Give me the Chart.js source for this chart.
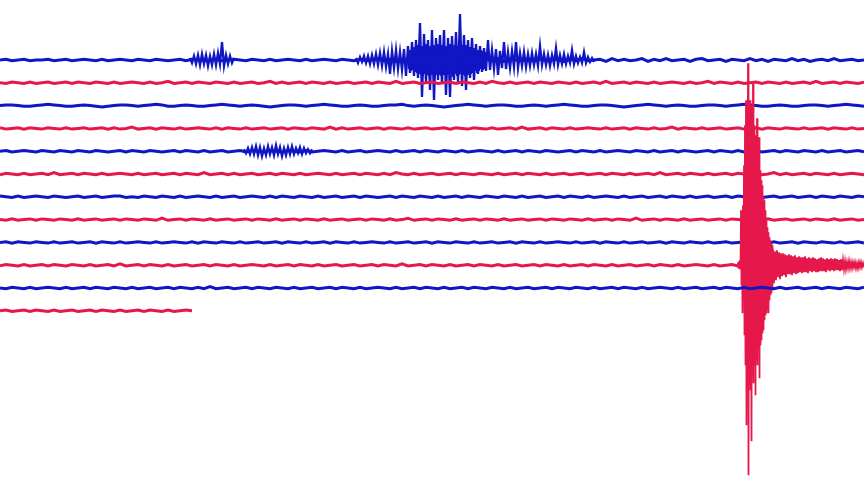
<!DOCTYPE html>
<html>
<head>
<meta charset="utf-8">
<script src="https://cdn.jsdelivr.net/npm/chart.js@4.4.1/dist/chart.umd.min.js"></script>
<style>
  html, body { margin: 0; padding: 0; background: #fff; overflow: hidden; }
  #wrap { width: 864px; height: 486px; }
</style>
</head>
<body>
<div id="wrap"><canvas id="seismo" width="864" height="486"></canvas></div>
<script>
// Seismogram: 12 stacked traces, background noise sampled every 6 units,
// plus the denser event windows. Amplitudes are positive upwards.

const trace0 = [0,1,-1,0,1,-1,0,0,1,-1,0,1, -1,0,1,0,-1,1,-1,0,1,0,-1,1, 0,-1,1,0,-1,0,1,-1,1,0,-1,0, 1,-1,0,1,0,-1,1,0,-1,1,-1,0, 1,0,-1,1,-1,0,1,0,-1,1,0,-1, 1,-1,0,2,-1,1,-2,1,0,-1,2,-1, 1,-2,2,-1,1,0,-2,2,-1,1,-1,2, -2,1,0,-1,2,-2,1,-1,2,0,-2,1, -1,2,-1,0,1,-2,2,-1,1,-1,0,2, -2,1,-1,2,-1,0,1,-2,1,2,-1,0, 1,-2,1,0,-1,2,-1,1,-2,1,0,-1, 2,-1,1,-2,0,1,-1,2,-1,0,1,-1, 0];
const trace1 = [0,-1,1,0,-1,1,-1,0,1,-1,0,1, -1,1,0,-1,1,0,-1,1,-1,0,1,0, -1,1,-1,0,2,-1,0,1,-1,1,0,-1, 1,0,-1,1,-1,0,1,-1,0,2,-1,1, -1,0,1,-1,1,0,-1,1,-1,0,1,-1, 0,1,-1,1,0,-1,2,-1,0,1,-1,0, 1,-1,0,1,-1,1,0,-1,1,-1,2,0, -1,1,-1,0,1,-1,1,0,-1,1,0,-1, 1,-1,0,1,-1,2,-1,0,1,-1,1,0, -1,1,-1,0,1,0,-1,1,-1,0,2,-1, 1,0,-1,1,-1,0,1,-1,1,0,-1,1, -1,0,1,-1,2,-1,0,1,-1,1,0,-1, 1];
const trace2 = [0,1,1,0,-1,-1,0,1,2,1,0,-1, -1,0,1,0,-1,-2,-1,0,1,1,0,-1, 0,1,2,1,-1,-1,0,1,0,-1,-1,0, 1,2,1,0,-1,0,1,0,-1,-2,-1,0, 1,1,0,-1,0,1,2,1,0,-1,-1,0, 1,0,-1,-1,0,1,1,2,0,-1,0,1, 0,-1,-2,-1,0,1,2,1,0,-1,0,1, 1,0,-1,-1,0,1,0,-1,0,1,2,1, 0,-1,-1,0,1,1,0,-1,-2,-1,0,1, 2,1,0,-1,0,1,0,-1,-1,0,1,1, 0,-1,0,1,2,1,0,-1,-1,0,1,0, -1,-1,0,1,1,0,-1,0,1,2,1,0, -1];
const trace3 = [1,-1,0,1,-1,1,0,-1,1,0,-1,1, -1,0,1,-1,0,1,-1,1,-1,0,2,-1, 0,1,-1,1,0,-1,1,-1,0,1,0,-1, 1,-1,1,0,-1,1,-1,0,1,-1,0,1, -1,1,0,-1,1,0,-1,2,-1,1,-1,0, 1,-1,0,1,-1,1,0,-1,1,-1,0,1, -1,0,1,-1,1,0,-1,1,0,-1,1,-1, 0,1,-1,2,-1,0,1,-1,1,0,-1,1, -1,0,1,0,-1,1,-1,0,1,-1,1,0, -1,1,-1,0,2,-1,1,0,-1,1,-1,0, 1,-1,0,1,-1,0,1,-1,1,0,-1,1, 0,-1,1,-1,0,1,-1,1,0,-1,1,-1, 0];
const trace4 = [0,1,-1,0,1,0,-1,1,0,-1,1,0, -1,1,0,-1,1,0,-1,0,1,-1,1,0, -1,1,0,-1,0,1,-1,1,0,-1,1,-1, 0,1,-1,0,1,-1,1,0,-1,1,0,-1, 1,0,-1,1,-1,0,1,0,-1,1,-1,0, 1,-1,0,1,0,-1,1,-1,0,1,-1,1, 0,-1,1,0,-1,1,-1,0,1,0,-1,1, -1,0,1,-1,1,0,-1,1,0,-1,0,1, -1,1,0,-1,1,-1,0,1,0,-1,1,0, -1,1,-1,0,1,-1,1,0,-1,0,1,-1, 1,0,-1,1,-1,0,1,-1,0,1,-1,1, 0,-1,1,0,-1,1,-1,0,1,-1,0,1, -1];
const trace5 = [-1,1,0,-1,1,-1,0,1,-1,2,-1,0, 1,-1,1,0,-1,1,-1,0,1,0,-1,1, -1,0,1,-1,0,1,-1,1,0,-1,2,-1, 0,1,-1,1,-1,0,1,-1,0,1,-1,1, 0,-1,1,-1,0,1,0,-1,1,-1,0,1, -1,1,0,-1,1,-1,2,0,-1,1,-1,0, 1,-1,0,1,-1,1,0,-1,1,0,-1,1, -1,0,1,-1,1,0,-1,1,-1,0,1,-1, 0,1,-1,0,1,-1,1,0,-1,1,-1,0, 1,-1,2,-1,0,1,-1,1,0,-1,1,-1, 0,1,-1,1,0,-1,1,-1,0,2,-1,1, -1,0,1,-1,1,0,-1,1,-1,0,1,0, -1];
const trace6 = [1,0,-1,1,-1,0,1,0,-1,1,0,-1, 0,1,-1,0,1,-1,0,1,1,-1,0,-1, 1,0,-1,1,0,-1,1,-1,0,1,0,-1, 1,-1,0,1,-1,0,1,0,-1,1,-1,1, 0,-1,1,0,-1,1,-1,0,1,-1,0,1, -1,1,0,-1,0,1,-1,1,0,-1,1,0, -1,1,-1,0,1,-1,1,0,-1,1,0,-1, 1,0,-1,1,-1,0,1,-1,0,1,-1,1, 0,-1,1,-1,0,1,0,-1,1,-1,0,1, -1,0,1,-1,1,0,-1,1,-1,0,1,-1, 0,1,-1,1,0,-1,1,-1,0,1,-1,0, 1,-1,0,1,-1,1,0,-1,1,0,-1,1, 0];
const trace7 = [0,-1,1,-1,0,1,-1,1,0,-1,1,0, -1,1,-1,0,1,-1,0,1,-1,1,0,-1, 1,0,-1,2,-1,0,1,-1,1,0,-1,1, -1,0,1,-1,0,1,-1,1,0,-1,1,-1, 0,1,-1,1,0,-1,1,-1,0,1,-1,0, 1,-1,1,0,-1,1,-1,0,2,-1,0,1, -1,1,0,-1,1,-1,0,1,-1,1,0,-1, 1,-1,0,1,-1,0,1,-1,1,0,-1,1, 0,-1,1,-1,0,1,-1,1,0,-1,2,-1, 0,1,-1,1,0,-1,1,-1,0,1,-1,0, 1,-1,1,0,-1,1,0,-1,1,-1,0,1, -1,0,1,-1,1,0,-1,1,-1,0,1,-1, 0];
const trace8 = [0,1,-1,1,0,-1,1,0,-1,1,-1,0, 1,-1,0,1,-1,1,0,-1,1,-1,0,1, 0,-1,1,-1,0,1,0,-1,1,-1,1,0, -1,1,0,-1,1,-1,0,1,-1,0,1,-1, 1,0,-1,1,-1,0,1,-1,1,0,-1,1, -1,0,1,0,-1,1,-1,0,1,-1,0,1, -1,1,0,-1,1,0,-1,1,-1,0,1,-1, 0,1,-1,1,0,-1,1,-1,0,1,0,-1, 1,-1,0,1,-1,1,0,-1,1,-1,0,1, -1,0,1,-1,1,0,-1,1,0,-1,1,-1, 0,1,-1,0,1,-1,1,0,-1,1,-1,0, 1,-1,1,0,-1,1,0,-1,1,-1,0,1, -1];
const trace9 = [-1,1,0,-1,1,-1,0,1,-1,1,0,-1, 1,0,-1,1,-1,0,1,-1,2,-1,0,1, -1,1,0,-1,1,-1,0,1,-1,0,1,-1, 1,0,-1,1,-1,0,1,0,-1,1,-1,0, 1,-1,1,0,-1,1,-1,0,1,-1,0,1, -1,0,1,-1,1,0,-1,2,-1,0,1,-1, 1,0,-1,1,-1,0,1,-1,1,0,-1,1, -1,0,1,-1,0,1,-1,1,0,-1,1,-1, 0,1,-1,1,0,-1,1,-1,0,1,-1,0, 1,-1,1,0,-1,1,-1,0,1,0,-1,1, -1,0,1,-1,1,0,-1,1,-1,0,1,-1, 0,1,-1,1,0,-1,1,0,-1,1,-1,0, 1];
const trace10 = [0,-1,1,0,-1,1,-1,0,1,0,-1,1, -1,0,1,-1,1,0,-1,1,0,-1,1,-1, 0,1,-1,0,1,-1,1,0,-1,1,-1,2, -1,0,1,-1,0,1,-1,1,0,-1,1,0, -1,1,-1,0,1,-1,0,1,-1,1,0,-1, 1,-1,0,1,0,-1,1,-1,0,1,-1,1, 0,-1,1,-1,0,1,-1,1,0,-1,1,0, -1,1,-1,0,1,-1,0,1,-1,1,0,-1, 1,0,-1,1,-1,0,1,-1,1,0,-1,1, -1,0,1,0,-1,1,-1,0,1,-1,0,1, -1,1,0,-1,1,-1,0,1,0,-1,1,-1, 0,1,-1,0,1,-1,1,0,-1,1,0,-1, 1];
const trace11 = [0,1,-1,0,1,-1,1,0,-1,1,-1,0, 1,-1,0,1,-1,1,0,-1,1,-1,0,1, -1,1,0,-1,1,-1,0,1,0];

// event windows: [trace index, first x, x step, amplitudes]
const burstSmall0 = [2,-3,4,-4,5,-5,6,-4,5,-6,4,-5,6,-5,7,-4,18,-6,5,-4,4,-3,2];
const burstMain0 = [2,-3,3,-2,4,-3,4,-4,5,-4,6,-5,7,-6,8,-7,6,-14,9,-8,10,-9,8,-10,11,-16,14,-13,18,-16,
  20,-18,37,-37,26,-22,20,-30,30,-40,22,-20,25,-24,30,-35,22,-37,24,-20,28,-22,46,-26,25,-30,20,-18,22,-20,
  16,-14,14,-12,12,-11,20,-10,10,-9,11,-15,9,-8,18,-9,8,-8,9,-7,18,-8,7,-6,8,-7,6,-6,7,-5,6,-6,
  14,-5,6,-5,5,-6,5,-4,12,-5,5,-4,6,-4,4,-3,10,-4,4,-3,3,-3,8,-3,3,-2,2,-2];
const burstCore0 = [8,-9,10,-11,12,-10,13,-12,14,-13, 15,-14,16,-15,14,-16,15,-14,16,-15,
  15,-16,14,-15,16,-14,15,-16,14,-15, 16,-15,14,-16,15,-14,16,-15,14,-15,
  15,-14,16,-15,14,-16,15,-14,15,-16, 14,-15,16,-14,15,-15,14,-16,15,-14,
  14,-13,13,-14,12,-13,12,-11,11,-12, 10,-11,10,-9,9,-10,8,-9,8];
const burst4 = [2,-2,3,-3,4,-3,5,-4,4,-5,3,-4,5,-3,4,-4,6,-3,4,-5,3,-4,4,-3,5,-3,3,-2,4,-3,3,-2,2,-2,2];
const quake9 = [3,-3, 4,-4, 5,-4, 55,-20, 40,-48, 60,-30, 100,-70, 140,-100, 165,-160, 160,-118,
  202,-210, 165,-120, 165,-125, 160,-176, 160,-110, 182,-118, 140,-100, 130,-130, 120,-95, 147,-100,
  110,-85, 128,-113, 95,-80, 85,-75, 80,-68, 68,-65, 65,-55, 55,-50, 45,-48, 38,-45,
  33,-48, 28,-35, 25,-30, 22,-28, 20,-25];
const coda9 = [16,-18,14,-15,15,-12,13,-14,12,-11, 12,-10,11,-12,10,-9,11,-9,10,-10,
  9,-8,10,-9,8,-8,9,-7,8,-8, 8,-7,9,-7,7,-8,8,-6,7,-7, 8,-6,7,-7,6,-7,7,-6,8,-6,
  7,-6,6,-7,7,-5,6,-6,7,-5, 6,-6,7,-5,6,-5,5,-6,6,-5, 5,-4,4,-4,3,-3,4,-3,3,-3,
  3,-2,3,-3,2,-3,3,-2,3,-2,2,-2];

const traces = [trace0, trace1, trace2, trace3, trace4, trace5, trace6, trace7, trace8, trace9, trace10, trace11];
const events = [
  [0, 190, 2, burstSmall0],
  [0, 356, 2, burstMain0],
  [0, 408, 1, burstCore0],
  [4, 244, 2, burst4],
  [9, 738, 0.5, quake9],
  [9, 773, 1, coda9]
];

const STEP = 6;          // spacing of the background noise samples
const SPACING = 22.8;    // vertical distance between traces
const NOISE_GAIN = 0.7;  // display gain of the quiet background
const BLUE = '#1016c4';
const RED = '#e6174b';

function colorOf(k) { return k % 2 === 0 ? BLUE : RED; }

const datasets = [];
traces.forEach((vals, k) => {
  datasets.push({
    data: vals.map((v, i) => ({ x: i * STEP, y: k * SPACING - v * NOISE_GAIN })),
    borderColor: colorOf(k),
    borderWidth: 3,
    order: 40 - 2 * k
  });
});
events.forEach(([k, x0, dx, vals]) => {
  datasets.push({
    data: vals.map((v, i) => ({ x: x0 + i * dx, y: k * SPACING - v })),
    borderColor: colorOf(k),
    borderWidth: dx < 2 ? 1.8 : 2.3,
    order: 40 - 2 * k - 1
  });
});

new Chart(document.getElementById('seismo'), {
  type: 'line',
  data: { datasets: datasets },
  options: {
    responsive: false,
    animation: false,
    devicePixelRatio: 1,
    layout: { padding: 0 },
    plugins: { legend: { display: false }, tooltip: { enabled: false } },
    elements: { point: { radius: 0 }, line: { tension: 0, fill: false } },
    scales: {
      x: { type: 'linear', min: 0, max: 864, display: false },
      y: { type: 'linear', min: -60, max: 426, reverse: true, display: false }
    }
  }
});
</script>
</body>
</html>
